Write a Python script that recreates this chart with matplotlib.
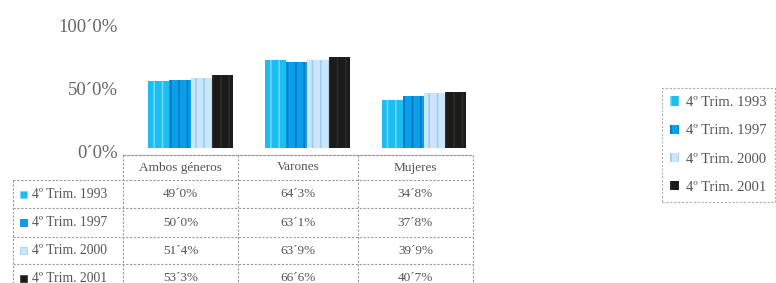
import matplotlib
matplotlib.use("Agg")
import matplotlib.pyplot as plt
from matplotlib.patches import Patch, Rectangle
import numpy as np

categories = ["Ambos géneros", "Varones", "Mujeres"]
series_names = ["4º Trim. 1993", "4º Trim. 1997", "4º Trim. 2000", "4º Trim. 2001"]
v1993 = [49.0, 64.3, 34.8]
v1997 = [50.0, 63.1, 37.8]
v2000 = [51.4, 63.9, 39.9]
v2001 = [53.3, 66.6, 40.7]
yticks = [0, 50, 100]

series = [v1993, v1997, v2000, v2001]
face = ["#1CBDF0", "#0A9FE6", "#CBE6FB", "#1B1B1B"]
stripe = ["#6FD8FA", "#0577C8", "#9FCBF0", "#2E2A26"]

def fmt(v):
    return f"{v:.1f}".replace(".", "´") + "%"

plt.rcParams["font.family"] = ["Liberation Serif", "DejaVu Serif"]
plt.rcParams["hatch.linewidth"] = 1.2
txtc = "#555555"

W, H = 776, 283
fig = plt.figure(figsize=(W / 100, H / 100), dpi=100)

# main bar axes
x0, x1 = 123, 473
ytop, ybot = 10, 155
ax = fig.add_axes([x0 / W, 1 - ybot / H, (x1 - x0) / W, (ybot - ytop) / H])
k = 1.37
base = 148
ax.set_ylim((base - ybot) / k, (base - ytop) / k)
ax.set_xlim(0, len(categories))

bw = 0.182
xc = np.arange(len(categories)) + 0.58
for j, vals in enumerate(series):
    ax.bar(xc + (j - 1.5) * bw, vals, width=bw, color=face[j],
           edgecolor=stripe[j], linewidth=0, hatch="||", zorder=2)

for s in ["top", "right", "left"]:
    ax.spines[s].set_visible(False)
ax.spines["bottom"].set_color("#9a9a9a")
ax.spines["bottom"].set_linestyle((0, (2, 1.5)))
ax.spines["bottom"].set_linewidth(0.8)
ax.set_xticks([])
ax.set_yticks([])

a_, b_ = 3.15, 1.079
sec = ax.secondary_yaxis("left", functions=(lambda p: a_ + b_ * p, lambda s: (s - a_) / b_))
sec.set_yticks(yticks)
sec.set_yticklabels([fmt(t) for t in yticks], fontsize=13.5, color="#666666")
sec.tick_params(length=0, pad=4)
sec.spines["left"].set_visible(False)

# data table
tax = fig.add_axes([0, 0, 1, 1])
tax.set_xlim(0, W)
tax.set_ylim(H, 0)
tax.axis("off")
cols = [123, 238, 358, 473]
rows = [155, 180, 208, 237, 264, 292]
lx = 13
ls = dict(color="#9a9a9a", lw=0.8, ls=(0, (2, 1.5)))
tax.plot([cols[0], cols[-1]], [rows[0], rows[0]], **ls)
for r in rows[1:]:
    tax.plot([lx, cols[-1]], [r, r], **ls)
for c in cols:
    tax.plot([c, c], [rows[0], H], **ls)
tax.plot([lx, lx], [rows[1], H], **ls)

for i, cat in enumerate(categories):
    tax.text((cols[i] + cols[i + 1]) / 2, (rows[0] + rows[1]) / 2, cat,
             ha="center", va="center", fontsize=9.5, color=txtc)
for j, name in enumerate(series_names):
    yc = (rows[j + 1] + rows[j + 2]) / 2
    tax.add_patch(Rectangle((20, yc - 3.5), 7, 7, facecolor=face[j],
                            edgecolor=stripe[j], lw=0.5))
    tax.text(32, yc, name, ha="left", va="center", fontsize=9.8, color=txtc)
    for i in range(len(categories)):
        tax.text((cols[i] + cols[i + 1]) / 2, yc, fmt(series[j][i]),
                 ha="center", va="center", fontsize=9.5, color=txtc)

# legend
handles = [Patch(facecolor=face[j], edgecolor=stripe[j], hatch="||", linewidth=0)
           for j in range(4)]
leg = fig.legend(handles, series_names, loc="upper left",
                 bbox_to_anchor=(662 / W, 1 - 88 / H), frameon=True,
                 fontsize=10.5, labelspacing=1.05, handlelength=0.6, handleheight=0.6,
                 handletextpad=0.5, borderpad=0.55, borderaxespad=0, fancybox=False)
leg.get_frame().set_edgecolor("#9a9a9a")
leg.get_frame().set_linestyle((0, (2, 1.5)))
leg.get_frame().set_linewidth(0.8)
for t in leg.get_texts():
    t.set_color(txtc)

fig.savefig("out.png", dpi=100)
